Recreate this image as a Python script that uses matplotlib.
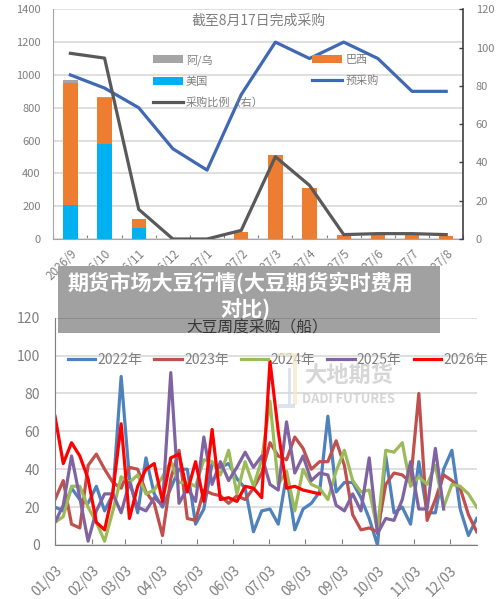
import numpy as np
import pandas as pd
import matplotlib
matplotlib.use('Agg')
import matplotlib.pyplot as plt
import matplotlib.dates as mdates
from matplotlib.patches import Rectangle

plt.rcParams['font.family'] = ['Noto Sans CJK SC', 'DejaVu Sans']

W, H = 500, 599

# top chart
months = ['2026/9', '2026/10', '2026/11', '2026/12', '2027/1', '2027/2',
          '2027/3', '2027/4', '2027/5', '2027/6', '2027/7', '2027/8']
usa = [205, 580, 68, 0, 0, 0, 0, 0, 0, 0, 0, 0]
brazil = [745, 280, 55, 0, 0, 45, 510, 310, 25, 30, 30, 20]
arg_uru = [20, 8, 0, 0, 0, 0, 0, 0, 0, 0, 0, 0]
pre_buy = [1000, 920, 800, 550, 420, 880, 1200, 1100, 1200, 1100, 900, 900]
ratio = [97, 94.5, 15.5, 0, 0, 4.5, 43, 28, 2.3, 2.8, 2.8, 2.3]

# bottom chart, weekly
y2022 = [20, 18, 30, 24, 22, 31, 18, 27, 89, 35, 17, 46, 27, 20, 30, 40, 40, 11,
         19, 43, 41, 43, 35, 30, 7, 18, 19, 11, 37, 8, 19, 22, 28, 68, 28, 33,
         33, 25, 14, 0, 47, 17, 20, 11, 44, 17, 17, 40, 50, 19, 5, 14]
y2023 = [24, 34, 11, 9, 42, 48, 40, 33, 30, 41, 40, 28, 22, 5, 35, 50, 14, 13,
         29, 27, 26, 22, 26, 24, 30, 38, 54, 47, 45, 57, 51, 40, 44, 44, 55, 42,
         16, 8, 9, 7, 32, 38, 37, 33, 80, 13, 24, 37, 34, 30, 16, 7]
y2024 = [12, 15, 31, 31, 20, 12, 2, 18, 36, 33, 37, 27, 29, 36, 44, 33, 33, 31,
         45, 44, 37, 50, 27, 44, 31, 45, 76, 32, 39, 18, 40, 32, 30, 24, 39, 50,
         34, 28, 29, 8, 50, 49, 54, 31, 36, 32, 42, 20, 32, 31, 27, 20]
y2025 = [12, 21, 47, 25, 2, 18, 27, 27, 17, 33, 20, 18, 25, 21, 91, 22, 30, 23,
         57, 32, 44, 34, 41, 49, 41, 47, 32, 29, 65, 38, 47, 34, 38, 37, 21, 18,
         27, 18, 46, 6, 14, 13, 24, 44, 19, 19, 51, 19]
y2026 = [68, 43, 54, 47, 35, 12, 8, 28, 64, 14, 31, 40, 43, 23, 46, 48, 28, 44,
         23, 61, 24, 25, 23, 31, 30, 25, 97, 60, 30, 31, 29, 28, 27]
weekly = [('2022年', y2022, '#4f81bd'), ('2023年', y2023, '#c0504d'),
          ('2024年', y2024, '#9bbb59'), ('2025年', y2025, '#8064a2'),
          ('2026年', y2026, '#ff0000')]

GREY = '#7f7f7f'
GRID = '#d9d9d9'


def axes_px(fig, left, top, right, bottom):
    return fig.add_axes([left / W, 1 - bottom / H, (right - left) / W, (bottom - top) / H])


def rect_px(fig, left, top, right, bottom, **kw):
    fig.patches.append(Rectangle((left / W, 1 - bottom / H), (right - left) / W, (bottom - top) / H,
                                 transform=fig.transFigure, lw=0, **kw))


fig = plt.figure(figsize=(5.0, 5.99), dpi=100)

# ---- top
ax = axes_px(fig, 53.3, 9.3, 463.3, 239)
x = np.arange(len(months))
usa = np.array(usa)
brazil = np.array(brazil)
ax.bar(x, usa, width=0.42, color='#00b0f0', label='美国', zorder=2)
ax.bar(x, brazil, width=0.42, bottom=usa, color='#ed7d31', label='巴西', zorder=2)
ax.bar(x, arg_uru, width=0.42, bottom=usa + brazil, color='#a5a5a5', label='阿/乌', zorder=2)
l_pre, = ax.plot(x, pre_buy, color='#3f68b5', lw=2.3, label='预采购', zorder=3)
ax.set_xlim(-0.5, 11.5)
ax.set_ylim(0, 1400)
ax.set_yticks(range(0, 1401, 200))
ax.set_xticks(np.arange(-0.5, 12, 1))
ax.set_xticklabels([])
ax.set_xticks(x, minor=True)
ax.set_xticklabels(months, minor=True, rotation=45, ha='right', rotation_mode='anchor',
                   color=GREY, fontsize=8.5)
ax.tick_params(axis='x', which='major', direction='in', length=3, color=GREY, width=0.8)
ax.tick_params(axis='x', which='minor', length=0, pad=6)
ax.tick_params(axis='y', length=0, pad=9, labelcolor=GREY, labelsize=8)
ax.grid(axis='y', color=GRID, lw=1.2, zorder=0)
ax.set_axisbelow(True)
for s in ['right', 'top']:
    ax.spines[s].set_visible(False)
ax.spines['left'].set_color('#a6a6a6')
ax.spines['bottom'].set_color('#a6a6a6')

ax2 = ax.twinx()
l_ratio, = ax2.plot(x, ratio, color='#595959', lw=2.3, label='采购比例（右）', zorder=4)
ax2.set_ylim(0, 120)
ax2.set_yticks(range(0, 121, 20))
ax2.tick_params(axis='y', direction='in', length=3, color='#404040', width=1, pad=9,
                labelcolor=GREY, labelsize=8)
for s in ['left', 'top', 'bottom']:
    ax2.spines[s].set_visible(False)
ax2.spines['right'].set_color('#404040')
ax2.spines['right'].set_linewidth(1.2)
ax.text(0.5, 0.95, '截至8月17日完成采购', transform=ax.transAxes, ha='center', va='center',
        color=GREY, fontsize=10)

h, lab = ax.get_legend_handles_labels()
d = dict(zip(lab, h))
ax2.legend([d['阿/乌'], d['美国'], l_ratio, d['巴西'], l_pre],
           ['阿/乌', '美国', '采购比例（右）', '巴西', '预采购'],
           ncol=2, frameon=False, fontsize=8, labelcolor=GREY,
           loc='upper left', bbox_to_anchor=(0.232, 0.825), borderaxespad=0,
           handlelength=2.7, handletextpad=0.25, labelspacing=0.95, columnspacing=4.4)

# ---- bottom
bx = axes_px(fig, 55, 317.7, 476.7, 545)
dates = pd.date_range('2022-01-03', periods=52, freq='7D')
for name, vals, col in weekly:
    bx.plot(dates[:len(vals)], vals, color=col, lw=2.3, label=name)
bx.set_xlim(dates[0], dates[-1])
bx.set_ylim(0, 120)
bx.set_yticks(range(0, 121, 20))
bx.set_xticks(pd.date_range('2022-01-03', periods=12, freq=pd.DateOffset(months=1)))
bx.xaxis.set_major_formatter(mdates.DateFormatter('%m/%d'))
plt.setp(bx.get_xticklabels(), rotation=45, ha='right', rotation_mode='anchor')
bx.tick_params(axis='x', direction='in', length=4, color=GREY, pad=13, labelcolor=GREY, labelsize=10)
bx.tick_params(axis='y', length=0, pad=11, labelcolor=GREY, labelsize=10)
bx.grid(axis='y', color=GRID, lw=1.2)
bx.set_axisbelow(True)
for s in ['right', 'top']:
    bx.spines[s].set_visible(False)
bx.spines['left'].set_color(GREY)
bx.spines['bottom'].set_color(GREY)
bx.legend(ncol=5, frameon=False, fontsize=10, labelcolor=GREY, loc='upper left',
          bbox_to_anchor=(0.03, 0.846), borderaxespad=0, borderpad=0, handlelength=2.0,
          handletextpad=0.15, columnspacing=0.85)
fig.text(257 / W, 1 - 328 / H, '大豆周度采购（船）', ha='center', va='center', color='#595959',
         fontsize=11.3, zorder=5)

# watermark
fig.text(349 / W, 1 - 375 / H, '大地期货', ha='center', va='center', color='#cfcfcf',
         fontsize=16, fontweight='bold', alpha=0.85, zorder=6)
fig.text(349 / W, 1 - 399 / H, 'DADI FUTURES', ha='center', va='center', color='#cfcfcf',
         fontsize=9.3, fontweight='bold', alpha=0.85, zorder=6)
rect_px(fig, 293, 353, 297, 405, color='#f3e9c4', alpha=0.7, zorder=6)
rect_px(fig, 278, 353, 293, 356, color='#f3e9c4', alpha=0.7, zorder=6)
rect_px(fig, 288, 368, 291, 404, color='#c9d9ea', alpha=0.7, zorder=6)
rect_px(fig, 278, 404, 295, 408, color='#c9d9ea', alpha=0.7, zorder=6)

# banner on top of everything, the top chart's tick labels do not show through it
rect_px(fig, 58, 266, 440, 316, color='white', zorder=19)
rect_px(fig, 58, 266, 440, 333, color='black', alpha=0.37, zorder=20)
fig.text(240 / W, 1 - 283 / H, '期货市场大豆行情(大豆期货实时费用', ha='center', va='center',
         color='white', fontsize=15.2, fontweight='bold', zorder=21)
fig.text(245 / W, 1 - 310 / H, '对比)', ha='center', va='center',
         color='white', fontsize=15.2, fontweight='bold', zorder=21)

fig.savefig('out.png', dpi=100)
